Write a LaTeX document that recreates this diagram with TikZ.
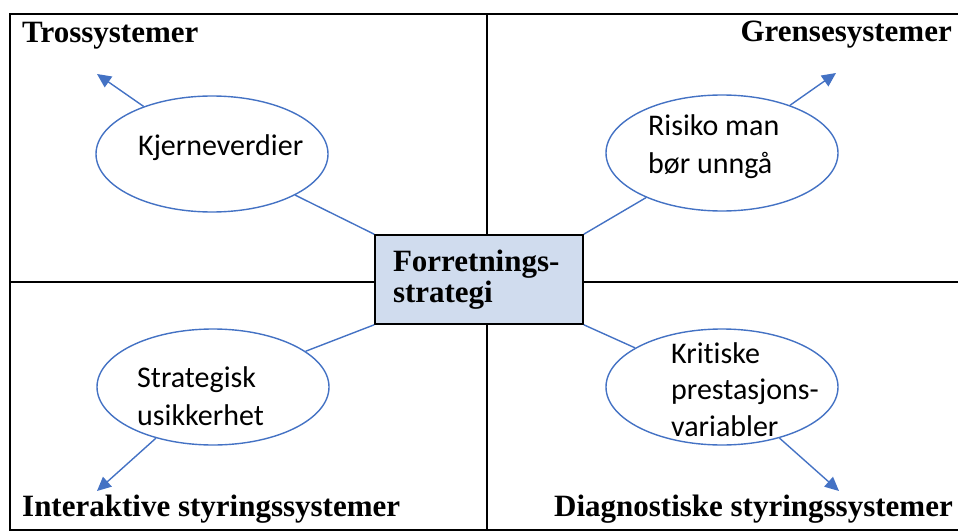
\documentclass[tikz,border=0pt]{standalone}
\usepackage{fontspec}
\setmainfont{Liberation Serif}
\newfontfamily\carlito[Ligatures=NoCommon]{Carlito}
\usetikzlibrary{arrows.meta}
\usetikzlibrary{shapes.geometric}
\definecolor{linkblue}{RGB}{68,114,196}
\definecolor{boxblue}{RGB}{208,220,238}

\begin{document}
\begin{tikzpicture}[x=1pt,y=-1pt,
    quad/.style={font=\fontsize{31}{31}\selectfont\bfseries,inner sep=0pt},
    oval/.style={ellipse,draw=linkblue,line width=1.4pt,fill=white,
      minimum width=232pt,minimum height=116pt,inner sep=0pt},
    ovaltext/.style={font=\carlito\fontsize{30}{38}\selectfont,align=left,
      inner sep=0pt,anchor=base west},
    tie/.style={draw=linkblue,line width=1.4pt},
    outarrow/.style={tie,-{Triangle[length=14pt,width=13pt]}}]
  \useasboundingbox (0,0) rectangle (958,532);

  % frame and quadrants
  \draw[line width=2pt] (962,14) -- (10,14) -- (10,530) -- (962,530);
  \draw[line width=1.6pt] (10,282) -- (962,282);
  \draw[line width=1.6pt] (487,14) -- (487,530);

  \node[quad,anchor=base west] (tros) at (22,43) {Trossystemer};
  \node[quad,anchor=base east] (grense) at (952,42) {Grensesystemer};
  \node[quad,anchor=base west] (inter) at (22,516) {Interaktive styringssystemer};
  \node[quad,anchor=base east] (diag) at (953,516) {Diagnostiske styringssystemer};

  % strategy in the middle
  \node[draw,line width=1.6pt,fill=boxblue,minimum height=89pt,text width=172pt,
    inner xsep=18pt,align=left,font=\fontsize{31}{31}\selectfont\bfseries]
    (strat) at (479,279.5) {Forretnings-\\strategi};

  \node[oval] (kjerne) at (212,154) {};
  \node[oval] (risiko) at (722,153) {};
  \node[oval] (usikker) at (213,387) {};
  \node[oval] (kritisk) at (722,387) {};

  % base anchor sits on the last line
  \node[ovaltext] (kjerneT) at (138,155) {Kjerneverdier};
  \node[ovaltext] (risikoT) at (648,173) {Risiko man\\bør unngå};
  \node[ovaltext] (usikkerT) at (137,425) {Strategisk\\usikkerhet};
  \node[ovaltext,font=\carlito\fontsize{30}{36.5}\selectfont] (kritiskT) at (671,436)
    {Kritiske\\prestasjons-\\variabler};

  \coordinate (trosP) at (97,74);
  \coordinate (grenseP) at (836,73);
  \coordinate (interP) at (97,491);
  \coordinate (diagP) at (839,491);

  \foreach \oval/\corner/\tip in {kjerne/north west/trosP, risiko/north east/grenseP,
      usikker/south west/interP, kritisk/south east/diagP} {
    \draw[tie] (strat.\corner) -- (\oval);
    \draw[outarrow] (\oval) -- (\tip);
  }
\end{tikzpicture}
\end{document}
